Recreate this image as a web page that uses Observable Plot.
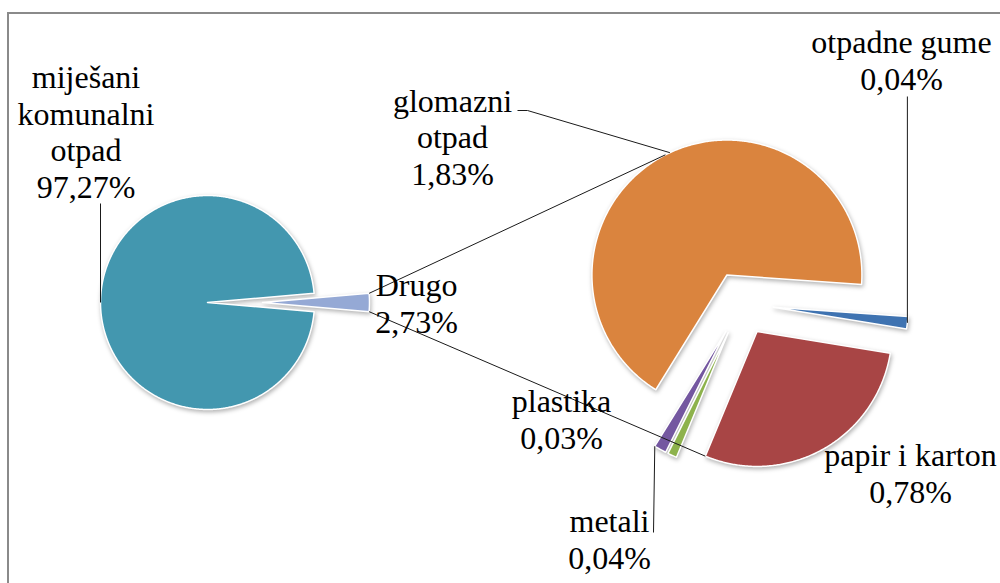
<!DOCTYPE html>
<html>
<head>
<meta charset="utf-8">
<script src="https://cdn.jsdelivr.net/npm/d3@7"></script>
<script src="https://cdn.jsdelivr.net/npm/@observablehq/plot@0.6"></script>
<style>
  html, body { margin: 0; padding: 0; background: #fff; }
  #wrap { position: relative; width: 1000px; height: 583px; overflow: hidden; }
  #frame { position: absolute; left: 7px; top: 12px; width: 1100px; height: 700px;
           border-left: 2px solid #8a8a8a; border-top: 2px solid #8a8a8a; pointer-events: none; }
  #wrap svg g[aria-label="text"] { font-family: "Liberation Serif", "Times New Roman", serif; }
</style>
</head>
<body>
<div id="wrap"><div id="frame"></div></div>
<script>
// ---------- DATA ----------
const mainCategories = ["miješani komunalni otpad", "Drugo"];
const mainValues = [97.27, 2.73];
const subCategories = ["otpadne gume", "papir i karton", "plastika", "metali", "glomazni otpad"];
const subValues = [0.04, 0.78, 0.03, 0.04, 1.83];
const mainLabelText = ["miješani\nkomunalni\notpad", "Drugo"];
const subLabelText = ["otpadne gume", "papir i karton", "plastika", "metali", "glomazni\notpad"];

// ---------- STYLE / LAYOUT ----------
const mainColors = ["#4397AF", "#95A9D5"];
const subColors = ["#3F73B1", "#A84545", "#8DB24C", "#7457A0", "#DA843E"];
const deg = Math.PI / 180;
const mainPie = {cx: 207, cy: 302, r: 107, explode: [0, 55]};
const subPie = {cx: 741, cy: 303, r: 135, explode: [32, 32, 32, 32, 32], startScreenDeg: 4};
// label anchor: x centre, y = baseline of the last line
const labelPos = {
  "miješani komunalni otpad": [85.5, 197],
  "Drugo": [416, 332],
  "glomazni otpad": [452, 184],
  "otpadne gume": [901, 89],
  "papir i karton": [910, 502],
  "plastika": [561, 448],
  "metali": [609, 568]
};

const fmt = v => v.toFixed(2).replace(".", ",") + "%";

// ---------- GEOMETRY FROM DATA ----------
function buildSlices(cats, vals, pie, startPieAngle) {
  const arcs = d3.pie().sort(null).startAngle(startPieAngle).endAngle(startPieAngle + 2 * Math.PI)(vals);
  return arcs.map((a, i) => {
    const t0 = a.startAngle - Math.PI / 2, t1 = a.endAngle - Math.PI / 2; // screen angle, clockwise from east
    const tm = (t0 + t1) / 2;
    const e = pie.explode[i];
    const vx = pie.cx + e * Math.cos(tm), vy = pie.cy + e * Math.sin(tm);
    const n = Math.max(2, Math.ceil((t1 - t0) / (0.5 * deg)));
    const pts = [{name: cats[i], x: vx, y: vy}];
    for (let k = 0; k <= n; k++) {
      const t = t0 + (t1 - t0) * k / n;
      pts.push({name: cats[i], x: vx + pie.r * Math.cos(t), y: vy + pie.r * Math.sin(t)});
    }
    const at = t => [vx + pie.r * Math.cos(t), vy + pie.r * Math.sin(t)];
    return {name: cats[i], t0, t1, tm, vx, vy, at, pts};
  });
}

// main pie: "Drugo" (last slice) centred on the east direction
const drugoSpan = mainValues[1] / d3.sum(mainValues) * 2 * Math.PI;
const mainSlices = buildSlices(mainCategories, mainValues, mainPie, Math.PI / 2 + drugoSpan / 2);
const subSlices = buildSlices(subCategories, subValues, subPie, (subPie.startScreenDeg + 90) * deg);

const slicePts = [...mainSlices, ...subSlices].flatMap(s => s.pts);
const S = Object.fromEntries([...mainSlices, ...subSlices].map(s => [s.name, s]));

// series (connector) lines and leader lines
const drugo = S["Drugo"];
const [dTopX, dTopY] = drugo.at(drugo.t0);
const [dBotX, dBotY] = drugo.at(drugo.t1);
const glom = S["glomazni otpad"], papir = S["papir i karton"], gume = S["otpadne gume"],
      metali = S["metali"], mjes = S["miješani komunalni otpad"];
const [gTx, gTy] = glom.at(glom.tm);
const [pBx, pBy] = papir.at(papir.t1);
const [glLx, glLy] = glom.at(245 * deg);
const [guX, guY] = gume.at(gume.tm);
const [meX, meY] = metali.at(metali.t1);
const [mjX, mjY] = mjes.at(Math.PI);

const links = [
  {x1: dTopX, y1: dTopY, x2: gTx, y2: gTy},
  {x1: dBotX, y1: dBotY, x2: pBx, y2: pBy},
  {x1: mjX, y1: mjY, x2: mjX, y2: 203},
  {x1: glLx, y1: glLy, x2: 527, y2: 110},
  {x1: 527, y1: 110, x2: 517, y2: 110},
  {x1: guX, y1: guY, x2: guX, y2: 96},
  {x1: meX, y1: meY, x2: 653, y2: 532}
];

const labels = [
  ...mainCategories.map((c, i) => ({name: c, text: mainLabelText[i] + "\n" + fmt(mainValues[i])})),
  ...subCategories.map((c, i) => ({name: c, text: subLabelText[i] + "\n" + fmt(subValues[i])}))
].map(d => ({...d, x: labelPos[d.name][0], y: labelPos[d.name][1]}));

const svg = Plot.plot({
  width: 1000,
  height: 583,
  margin: 0,
  x: {domain: [0, 1000], range: [0, 1000], axis: null},
  y: {domain: [0, 583], range: [0, 583], axis: null},
  color: {domain: [...mainCategories, ...subCategories], range: [...mainColors, ...subColors]},
  style: {background: "transparent", overflow: "visible"},
  marks: [
    Plot.line(slicePts, {x: "x", y: "y", z: "name", fill: "name", stroke: "white", strokeWidth: 1.5, curve: "linear-closed"}),
    Plot.link(links, {x1: "x1", y1: "y1", x2: "x2", y2: "y2", stroke: "#1a1a1a", strokeWidth: 1}),
    Plot.text(labels, {x: "x", y: "y", text: "text", textAnchor: "middle", lineAnchor: "bottom", lineHeight: 1.14,
      fontSize: 32, fontFamily: "Liberation Serif, Times New Roman, serif", fill: "black"})
  ]
});
d3.select(svg).selectAll('g[aria-label="line"]').style("filter", "drop-shadow(1.5px 2px 2px rgba(0,0,0,0.3))");
svg.style.position = "absolute";
svg.style.left = "0px";
svg.style.top = "0px";
document.getElementById("wrap").insertBefore(svg, document.getElementById("frame"));
</script>
</body>
</html>
